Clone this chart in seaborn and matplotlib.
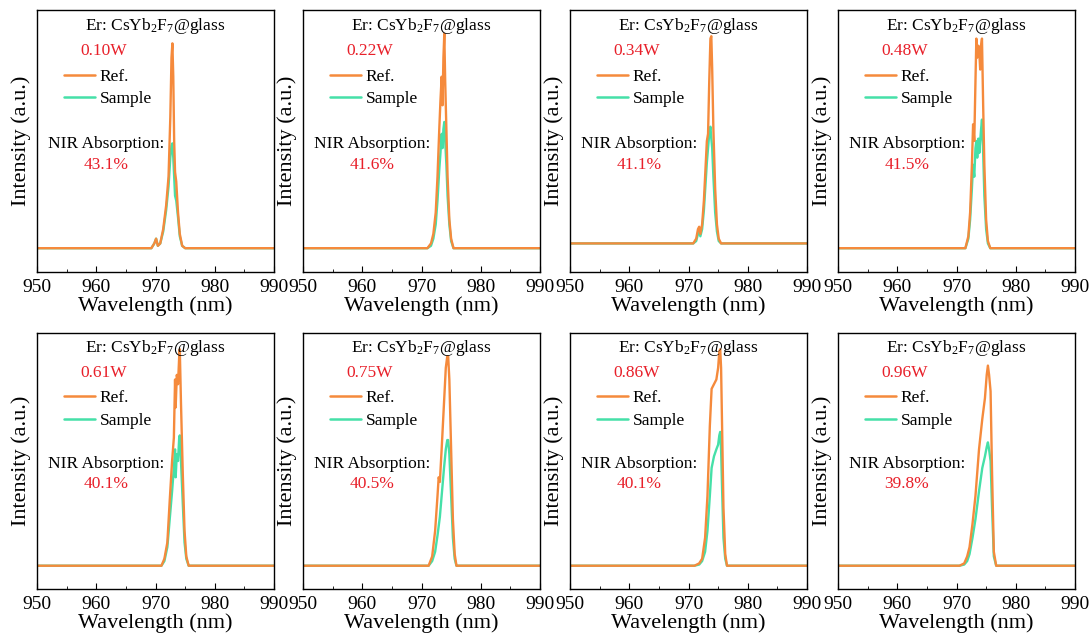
import numpy as np
import pandas as pd
import seaborn as sns
import matplotlib.pyplot as plt
from matplotlib.ticker import MultipleLocator

sns.set_style("ticks")
plt.rcParams['font.family'] = ['Liberation Serif', 'DejaVu Serif']
plt.rcParams['mathtext.fontset'] = 'custom'
plt.rcParams['mathtext.rm'] = 'Liberation Serif'
plt.rcParams['mathtext.it'] = 'Liberation Serif:italic'
plt.rcParams['text.color'] = 'black'
plt.rcParams['axes.labelcolor'] = 'black'
plt.rcParams['xtick.color'] = 'black'
plt.rcParams['ytick.color'] = 'black'
plt.rcParams['axes.edgecolor'] = 'black'

powers = ["0.10W", "0.22W", "0.34W", "0.48W", "0.61W", "0.75W", "0.86W", "0.96W"]
absorption = ["43.1%", "41.6%", "41.1%", "41.5%", "40.1%", "40.5%", "40.1%", "39.8%"]

wl1 = [950, 969.3, 969.8, 970.1, 970.4, 970.8, 971.3, 971.8, 972.2, 972.5, 972.7, 972.85, 973.0, 973.15, 973.3, 973.5, 973.8, 974.1, 974.5, 975.0, 990]
ref1 = [0, 0, 0.02, 0.04, 0.01, 0.02, 0.08, 0.18, 0.30, 0.55, 0.80, 0.86, 0.72, 0.45, 0.32, 0.28, 0.15, 0.06, 0.01, 0, 0]
smp1 = [0, 0, 0.02, 0.04, 0.01, 0.02, 0.07, 0.16, 0.26, 0.38, 0.43, 0.44, 0.38, 0.30, 0.22, 0.20, 0.13, 0.05, 0.01, 0, 0]

wl2 = [950, 971.0, 971.6, 972.0, 972.4, 972.7, 973.0, 973.2, 973.4, 973.55, 973.7, 973.85, 974.0, 974.2, 974.4, 974.7, 975.0, 975.4, 990]
ref2 = [0, 0, 0.02, 0.06, 0.15, 0.30, 0.50, 0.62, 0.72, 0.60, 0.80, 0.90, 0.70, 0.50, 0.30, 0.12, 0.04, 0, 0]
smp2 = [0, 0, 0.01, 0.04, 0.10, 0.20, 0.33, 0.40, 0.48, 0.42, 0.50, 0.53, 0.45, 0.35, 0.22, 0.10, 0.03, 0, 0]

wl3 = [950, 970.8, 971.3, 971.6, 971.8, 972.0, 972.3, 972.6, 972.9, 973.1, 973.3, 973.5, 973.7, 973.85, 974.0, 974.2, 974.5, 974.8, 975.1, 975.5, 990]
ref3 = [0.02, 0.02, 0.04, 0.08, 0.09, 0.06, 0.10, 0.20, 0.35, 0.45, 0.48, 0.70, 0.88, 0.89, 0.75, 0.50, 0.25, 0.10, 0.04, 0.02, 0.02]
smp3 = [0.02, 0.02, 0.03, 0.06, 0.07, 0.05, 0.08, 0.16, 0.28, 0.36, 0.42, 0.48, 0.51, 0.46, 0.42, 0.30, 0.15, 0.07, 0.03, 0.02, 0.02]

wl4 = [950, 971.5, 972.0, 972.3, 972.6, 972.8, 973.0, 973.2, 973.35, 973.5, 973.7, 973.85, 974.0, 974.15, 974.3, 974.5, 974.7, 975.0, 975.3, 975.7, 990]
ref4 = [0, 0, 0.05, 0.15, 0.35, 0.52, 0.45, 0.70, 0.88, 0.80, 0.85, 0.82, 0.75, 0.85, 0.88, 0.60, 0.35, 0.12, 0.03, 0, 0]
smp4 = [0, 0, 0.04, 0.12, 0.25, 0.35, 0.30, 0.42, 0.45, 0.38, 0.46, 0.40, 0.45, 0.50, 0.54, 0.40, 0.22, 0.08, 0.02, 0, 0]

wl5 = [950, 971.0, 971.5, 972.0, 972.4, 972.8, 973.1, 973.3, 973.4, 973.6, 973.8, 974.0, 974.1, 974.3, 974.6, 974.9, 975.2, 975.6, 990]
ref5 = [0, 0, 0.03, 0.10, 0.28, 0.45, 0.55, 0.80, 0.68, 0.82, 0.78, 0.90, 0.93, 0.70, 0.40, 0.15, 0.04, 0, 0]
smp5 = [0, 0, 0.02, 0.08, 0.20, 0.32, 0.42, 0.50, 0.38, 0.48, 0.45, 0.55, 0.56, 0.45, 0.27, 0.10, 0.03, 0, 0]

wl6 = [950, 971.2, 971.8, 972.3, 972.7, 972.9, 973.1, 973.4, 973.8, 974.1, 974.35, 974.5, 974.7, 975.0, 975.3, 975.6, 975.9, 990]
ref6 = [0, 0, 0.04, 0.15, 0.30, 0.38, 0.36, 0.50, 0.70, 0.85, 0.90, 0.90, 0.80, 0.50, 0.20, 0.05, 0, 0]
smp6 = [0, 0, 0.02, 0.06, 0.13, 0.17, 0.21, 0.30, 0.42, 0.50, 0.54, 0.54, 0.48, 0.30, 0.12, 0.03, 0, 0]

wl7 = [950, 971.0, 971.8, 972.3, 972.8, 973.2, 973.6, 973.9, 974.3, 974.7, 975.0, 975.2, 975.35, 975.5, 975.7, 975.9, 976.2, 976.5, 990]
ref7 = [0, 0, 0.01, 0.03, 0.12, 0.30, 0.60, 0.76, 0.78, 0.80, 0.85, 0.92, 0.93, 0.85, 0.55, 0.25, 0.05, 0, 0]
smp7 = [0, 0, 0.005, 0.02, 0.06, 0.15, 0.30, 0.42, 0.47, 0.50, 0.52, 0.56, 0.575, 0.50, 0.30, 0.12, 0.03, 0, 0]

wl8 = [950, 970.5, 971.3, 971.8, 972.2, 972.7, 973.2, 973.8, 974.35, 974.8, 975.1, 975.3, 975.5, 975.75, 976.0, 976.3, 976.7, 990]
ref8 = [0, 0, 0.01, 0.04, 0.08, 0.18, 0.30, 0.50, 0.63, 0.72, 0.82, 0.86, 0.82, 0.75, 0.40, 0.06, 0, 0]
smp8 = [0, 0, 0.005, 0.02, 0.05, 0.12, 0.20, 0.32, 0.42, 0.47, 0.51, 0.53, 0.50, 0.45, 0.25, 0.04, 0, 0]

wls = [wl1, wl2, wl3, wl4, wl5, wl6, wl7, wl8]
refs = [ref1, ref2, ref3, ref4, ref5, ref6, ref7, ref8]
smps = [smp1, smp2, smp3, smp4, smp5, smp6, smp7, smp8]

ORANGE = '#F58A3C'
GREEN = '#45E0A8'
RED = '#E8202A'

W, H = 1091, 639
fig = plt.figure(figsize=(W / 100, H / 100), dpi=100)
lefts = [37, 303, 570, 838]
rows = [(10, 272), (333, 589)]

for i in range(8):
    r, c = divmod(i, 4)
    top, bot = rows[r]
    ax = fig.add_axes([lefts[c] / W, 1 - bot / H, 237 / W, (bot - top) / H])
    df = pd.DataFrame({'wl': wls[i] * 2,
                       'val': smps[i] + refs[i],
                       'series': ['Sample'] * len(wls[i]) + ['Ref.'] * len(wls[i])})
    sns.lineplot(data=df, x='wl', y='val', hue='series', ax=ax,
                 palette={'Sample': GREEN, 'Ref.': ORANGE}, linewidth=1.7,
                 sort=False, legend=False, estimator=None)
    ax.set_xlim(950, 990)
    ax.set_ylim(-0.1, 1.0)
    ax.xaxis.set_major_locator(MultipleLocator(10))
    ax.xaxis.set_minor_locator(MultipleLocator(5))
    ax.set_yticks([])
    ax.tick_params(axis='x', which='both', direction='in', labelsize=14, pad=5)
    ax.tick_params(axis='x', which='major', length=4)
    ax.tick_params(axis='x', which='minor', length=2.5)
    for s in ax.spines.values():
        s.set_linewidth(1.0)
        s.set_color('black')
    ax.set_xlabel('Wavelength (nm)', fontsize=16, labelpad=0)
    ax.set_ylabel('Intensity (a.u.)', fontsize=16, labelpad=4)

    ax.text(0.5, 0.94, r'Er: CsYb$\mathregular{_2}$F$\mathregular{_7}$@glass',
            transform=ax.transAxes, ha='center', va='center', fontsize=12.5)
    ax.text(0.28, 0.845, powers[i], transform=ax.transAxes, ha='center',
            va='center', fontsize=12.5, color=RED)
    ax.text(0.29, 0.49, 'NIR Absorption:', transform=ax.transAxes,
            ha='center', va='center', fontsize=12.5)
    ax.text(0.29, 0.41, absorption[i], transform=ax.transAxes,
            ha='center', va='center', fontsize=12.5, color=RED)
    h_ref = plt.Line2D([], [], color=ORANGE, lw=1.8)
    h_smp = plt.Line2D([], [], color=GREEN, lw=1.8)
    ax.legend([h_ref, h_smp], ['Ref.', 'Sample'], loc='upper left',
              bbox_to_anchor=(0.1, 0.79), frameon=False, fontsize=12.5,
              handlelength=1.8, handletextpad=0.25, labelspacing=0.35,
              borderaxespad=0, borderpad=0.2)

fig.savefig('out.png', dpi=100)
